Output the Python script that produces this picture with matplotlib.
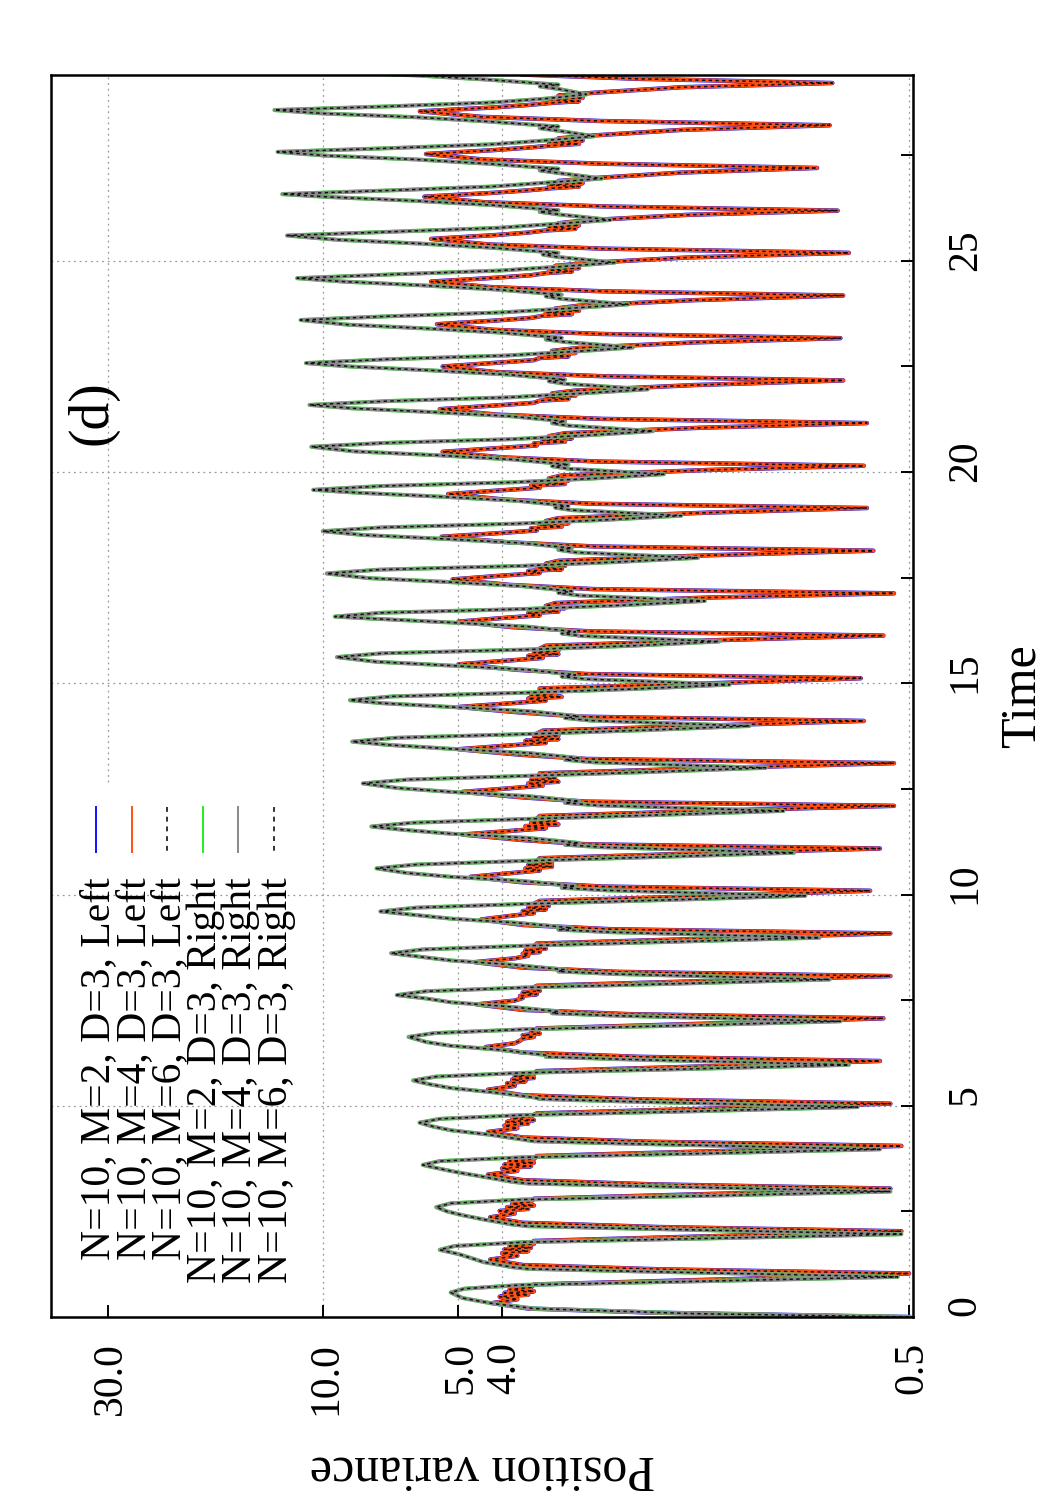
import matplotlib
matplotlib.use("Agg")
import matplotlib.pyplot as plt
from matplotlib.lines import Line2D
from matplotlib.ticker import NullLocator
from matplotlib.transforms import ScaledTranslation

plt.rcParams['font.family'] = ['Liberation Serif', 'DejaVu Serif']

# ---------------- data ----------------
# "Right" group (M=2,4,6 curves overlap): time and position variance
right_time = [
    0.00, 0.08, 0.20, 0.32, 0.45,
    0.58, 0.67, 0.76, 0.85, 0.95, 1.08, 1.14, 1.18, 1.30, 1.40, 1.49,
    1.59, 1.68, 1.77, 1.86, 1.96, 2.09, 2.15, 2.19, 2.31, 2.41, 2.50,
    2.60, 2.69, 2.78, 2.87, 2.97, 3.10, 3.16, 3.20, 3.32, 3.42, 3.51,
    3.60, 3.69, 3.78, 3.87, 3.97, 4.10, 4.16, 4.20, 4.32, 4.42, 4.51,
    4.60, 4.69, 4.78, 4.87, 4.97, 5.10, 5.16, 5.20, 5.32, 5.42, 5.51,
    5.60, 5.69, 5.78, 5.87, 5.97, 6.10, 6.16, 6.20, 6.32, 6.42, 6.51,
    6.63, 6.72, 6.81, 6.90, 7.00, 7.13, 7.19, 7.23, 7.35, 7.45, 7.54,
    7.62, 7.71, 7.80, 7.89, 7.99, 8.12, 8.18, 8.22, 8.34, 8.44, 8.53,
    8.61, 8.70, 8.79, 8.88, 8.98, 9.11, 9.17, 9.21, 9.33, 9.43, 9.52,
    9.60, 9.69, 9.78, 9.87, 9.97, 10.10, 10.16, 10.20, 10.32, 10.42, 10.51,
    10.62, 10.71, 10.80, 10.89, 10.99, 11.12, 11.18, 11.22, 11.34, 11.44, 11.53,
    11.61, 11.70, 11.79, 11.88, 11.98, 12.11, 12.17, 12.21, 12.33, 12.43, 12.52,
    12.63, 12.72, 12.81, 12.90, 13.00, 13.13, 13.19, 13.23, 13.35, 13.45, 13.54,
    13.62, 13.71, 13.80, 13.89, 13.99, 14.12, 14.18, 14.22, 14.34, 14.44, 14.53,
    14.60, 14.69, 14.78, 14.87, 14.97, 15.10, 15.16, 15.20, 15.32, 15.42, 15.51,
    15.62, 15.71, 15.80, 15.89, 15.99, 16.12, 16.18, 16.22, 16.34, 16.44, 16.53,
    16.58, 16.67, 16.76, 16.85, 16.95, 17.08, 17.14, 17.18, 17.30, 17.40, 17.49,
    17.60, 17.69, 17.78, 17.87, 17.97, 18.10, 18.16, 18.20, 18.32, 18.42, 18.51,
    18.60, 18.69, 18.78, 18.87, 18.97, 19.10, 19.16, 19.20, 19.32, 19.42, 19.51,
    19.58, 19.67, 19.76, 19.85, 19.95, 20.08, 20.14, 20.18, 20.30, 20.40, 20.49,
    20.60, 20.69, 20.78, 20.87, 20.97, 21.10, 21.16, 21.20, 21.32, 21.42, 21.51,
    21.59, 21.68, 21.77, 21.86, 21.96, 22.09, 22.15, 22.19, 22.31, 22.41, 22.50,
    22.58, 22.67, 22.76, 22.85, 22.95, 23.08, 23.14, 23.18, 23.30, 23.40, 23.49,
    23.60, 23.69, 23.78, 23.87, 23.97, 24.10, 24.16, 24.20, 24.32, 24.42, 24.51,
    24.59, 24.68, 24.77, 24.86, 24.96, 25.09, 25.15, 25.19, 25.31, 25.41, 25.50,
    25.60, 25.69, 25.78, 25.87, 25.97, 26.10, 26.16, 26.20, 26.32, 26.42, 26.51,
    26.58, 26.67, 26.76, 26.85, 26.95, 27.08, 27.14, 27.18, 27.30, 27.40, 27.49,
    27.58, 27.67, 27.76, 27.85, 27.95, 28.08, 28.14, 28.18, 28.30, 28.40, 28.49,
    28.57, 28.66, 28.75, 28.84, 28.94, 29.07, 29.13, 29.17, 29.29, 29.39, 29.48,
]
right_var = [
    0.50, 1.5, 3.4, 4.2, 4.9,
    5.2, 4.85, 3.6, 1.4, 0.53, 2.0, 3.5, 3.8, 4.4, 4.7, 5.0,
    5.5, 5.1, 3.6, 1.4, 0.52, 2.0, 3.5, 3.8, 4.4, 4.9, 5.3,
    5.6, 5.2, 3.6, 1.4, 0.55, 2.0, 3.5, 3.8, 4.4, 5.0, 5.5,
    6.0, 5.5, 3.6, 1.45, 0.58, 2.05, 3.4, 3.6, 4.3, 5.2, 5.7,
    6.1, 5.5, 3.6, 1.5, 0.65, 2.1, 3.3, 3.4, 4.2, 5.2, 5.8,
    6.3, 5.6, 3.6, 1.55, 0.68, 2.15, 3.2, 3.2, 4.0, 5.2, 5.9,
    6.45, 5.65, 3.55, 1.6, 0.71, 2.2, 3.1, 3.0, 3.9, 5.2, 5.9,
    6.85, 5.9, 3.55, 1.65, 0.75, 2.25, 3.0, 2.9, 3.8, 5.2, 6.1,
    7.05, 6.0, 3.5, 1.7, 0.79, 2.3, 3.0, 2.8, 3.7, 5.2, 6.3,
    7.45, 6.2, 3.5, 1.75, 0.85, 2.35, 2.95, 2.75, 3.6, 5.2, 6.5,
    7.6, 6.2, 3.5, 1.8, 0.9, 2.4, 2.9, 2.7, 3.5, 5.2, 6.6,
    7.8, 6.3, 3.5, 1.85, 0.95, 2.45, 2.9, 2.7, 3.5, 5.2, 6.8,
    8.15, 6.5, 3.5, 1.9, 1.04, 2.5, 2.9, 2.7, 3.5, 5.2, 7.1,
    8.6, 6.9, 3.5, 1.95, 1.13, 2.55, 2.9, 2.7, 3.5, 5.2, 7.4,
    8.7, 7.0, 3.5, 2.0, 1.25, 2.6, 2.95, 2.75, 3.5, 5.2, 7.6,
    9.3, 7.4, 3.5, 2.05, 1.32, 2.65, 2.95, 2.75, 3.5, 5.2, 7.7,
    9.4, 7.4, 3.55, 2.15, 1.42, 2.7, 3.0, 2.8, 3.6, 5.3, 7.9,
    9.8, 7.5, 3.6, 2.25, 1.47, 2.75, 3.0, 2.8, 3.6, 5.4, 8.1,
    10.0, 7.4, 3.7, 2.35, 1.6, 2.8, 3.05, 2.85, 3.7, 5.5, 8.3,
    10.5, 7.4, 3.75, 2.5, 1.75, 2.85, 3.1, 2.85, 3.8, 5.6, 8.5,
    10.6, 7.3, 3.8, 2.6, 1.85, 2.85, 3.1, 2.9, 3.8, 5.7, 8.6,
    10.7, 7.2, 3.85, 2.7, 1.9, 2.9, 3.15, 2.9, 3.9, 5.8, 8.7,
    10.9, 7.2, 3.9, 2.8, 2.05, 2.9, 3.2, 2.95, 4.0, 5.9, 8.8,
    11.2, 7.1, 4.0, 2.9, 2.1, 2.95, 3.2, 2.95, 4.1, 6.0, 9.0,
    11.4, 7.0, 4.05, 3.0, 2.25, 3.0, 3.25, 3.0, 4.2, 6.1, 9.3,
    12.0, 7.0, 4.1, 3.1, 2.3, 3.0, 3.3, 3.0, 4.2, 6.2, 9.6,
    12.3, 7.0, 4.2, 3.2, 2.4, 3.0, 3.3, 3.0, 4.3, 6.2, 9.8,
    12.6, 7.0, 4.2, 3.2, 2.5, 3.0, 3.3, 3.0, 4.3, 6.2, 10.0,
    12.8, 7.0, 4.2, 3.2, 2.6, 3.0, 3.3, 3.0, 4.3, 6.2, 10.0,
]

# "Left" group (M=2,4,6 curves overlap)
left_time = [
    0.00, 0.10, 0.20, 0.33, 0.42, 0.48, 0.53, 0.57, 0.61, 0.65, 0.70, 0.77, 0.90,
    1.03, 1.13, 1.23, 1.36, 1.45, 1.51, 1.56, 1.60, 1.64, 1.68, 1.73, 1.80, 1.93,
    2.03, 2.13, 2.23, 2.36, 2.45, 2.51, 2.56, 2.60, 2.64, 2.68, 2.73, 2.80, 2.93,
    3.04, 3.14, 3.24, 3.37, 3.46, 3.52, 3.57, 3.61, 3.65, 3.69, 3.74, 3.81, 3.94,
    4.05, 4.15, 4.25, 4.38, 4.47, 4.53, 4.58, 4.62, 4.66, 4.70, 4.75, 4.82, 4.95,
    5.05, 5.15, 5.25, 5.38, 5.47, 5.53, 5.58, 5.62, 5.66, 5.70, 5.75, 5.82, 5.95,
    6.06, 6.16, 6.26, 6.39, 6.48, 6.54, 6.59, 6.63, 6.67, 6.71, 6.76, 6.83, 6.96,
    7.07, 7.17, 7.27, 7.40, 7.49, 7.55, 7.60, 7.64, 7.68, 7.72, 7.77, 7.84, 7.97,
    8.07, 8.17, 8.27, 8.40, 8.49, 8.55, 8.60, 8.64, 8.68, 8.72, 8.77, 8.84, 8.97,
    9.08, 9.18, 9.28, 9.41, 9.50, 9.56, 9.61, 9.65, 9.69, 9.73, 9.78, 9.85, 9.98,
    10.09, 10.19, 10.29, 10.42, 10.51, 10.57, 10.62, 10.66, 10.70, 10.74, 10.79, 10.86, 10.99,
    11.09, 11.19, 11.29, 11.42, 11.51, 11.57, 11.62, 11.66, 11.70, 11.74, 11.79, 11.86, 11.99,
    12.10, 12.20, 12.30, 12.43, 12.52, 12.58, 12.63, 12.67, 12.71, 12.75, 12.80, 12.87, 13.00,
    13.11, 13.21, 13.31, 13.44, 13.53, 13.59, 13.64, 13.68, 13.72, 13.76, 13.81, 13.88, 14.01,
    14.11, 14.21, 14.31, 14.44, 14.53, 14.59, 14.64, 14.68, 14.72, 14.76, 14.81, 14.88, 15.01,
    15.12, 15.22, 15.32, 15.45, 15.54, 15.60, 15.65, 15.69, 15.73, 15.77, 15.82, 15.89, 16.02,
    16.13, 16.23, 16.33, 16.46, 16.55, 16.61, 16.66, 16.70, 16.74, 16.78, 16.83, 16.90, 17.03,
    17.13, 17.23, 17.33, 17.46, 17.55, 17.61, 17.66, 17.70, 17.74, 17.78, 17.83, 17.90, 18.03,
    18.14, 18.24, 18.34, 18.47, 18.56, 18.62, 18.67, 18.71, 18.75, 18.79, 18.84, 18.91, 19.04,
    19.15, 19.25, 19.35, 19.48, 19.57, 19.63, 19.68, 19.72, 19.76, 19.80, 19.85, 19.92, 20.05,
    20.15, 20.25, 20.35, 20.48, 20.57, 20.63, 20.68, 20.72, 20.76, 20.80, 20.85, 20.92, 21.05,
    21.16, 21.26, 21.36, 21.49, 21.58, 21.64, 21.69, 21.73, 21.77, 21.81, 21.86, 21.93, 22.06,
    22.17, 22.27, 22.37, 22.50, 22.59, 22.65, 22.70, 22.74, 22.78, 22.82, 22.87, 22.94, 23.07,
    23.17, 23.27, 23.37, 23.50, 23.59, 23.65, 23.70, 23.74, 23.78, 23.82, 23.87, 23.94, 24.07,
    24.18, 24.28, 24.38, 24.51, 24.60, 24.66, 24.71, 24.75, 24.79, 24.83, 24.88, 24.95, 25.08,
    25.19, 25.29, 25.39, 25.52, 25.61, 25.67, 25.72, 25.76, 25.80, 25.84, 25.89, 25.96, 26.09,
    26.19, 26.29, 26.39, 26.52, 26.61, 26.67, 26.72, 26.76, 26.80, 26.84, 26.89, 26.96, 27.09,
    27.20, 27.30, 27.40, 27.53, 27.62, 27.68, 27.73, 27.77, 27.81, 27.85, 27.90, 27.97, 28.10,
    28.21, 28.31, 28.41, 28.54, 28.63, 28.69, 28.74, 28.78, 28.82, 28.86, 28.91, 28.98, 29.11,
    29.21, 29.31, 29.41,
]
left_var = [
    0.50, 1.8, 3.5, 4.2, 3.7, 4.05, 3.5, 3.95, 3.4, 3.85, 3.45, 3.4, 1.2,
    0.50, 1.8, 3.6, 4.25, 3.7, 4.0, 3.5, 3.95, 3.45, 3.85, 3.4, 3.4, 1.2,
    0.52, 1.8, 3.6, 4.25, 3.75, 4.05, 3.5, 3.9, 3.4, 3.8, 3.45, 3.4, 1.2,
    0.55, 1.85, 3.6, 4.3, 3.7, 4.0, 3.45, 3.95, 3.4, 3.85, 3.4, 3.35, 1.2,
    0.52, 1.9, 3.6, 4.3, 3.7, 3.95, 3.5, 3.9, 3.4, 3.8, 3.45, 3.35, 1.2,
    0.55, 1.95, 3.6, 4.3, 3.75, 3.9, 3.55, 3.8, 3.4, 3.75, 3.4, 3.35, 1.25,
    0.58, 2.0, 3.6, 4.35, 3.75, 3.65, 3.6, 3.4, 3.6, 3.3, 3.45, 3.35, 1.25,
    0.57, 2.1, 3.6, 4.55, 3.75, 3.6, 3.65, 3.35, 3.6, 3.3, 3.45, 3.35, 1.25,
    0.55, 2.2, 3.6, 4.6, 3.75, 3.5, 3.6, 3.3, 3.55, 3.2, 3.4, 3.35, 1.25,
    0.55, 2.3, 3.6, 4.45, 3.8, 3.4, 3.6, 3.2, 3.5, 3.15, 3.4, 3.3, 1.25,
    0.61, 2.4, 3.6, 4.7, 3.8, 3.3, 3.55, 3.1, 3.5, 3.1, 3.35, 3.3, 1.3,
    0.58, 2.6, 3.6, 4.9, 3.8, 3.2, 3.55, 3.0, 3.45, 3.05, 3.35, 3.3, 1.3,
    0.54, 2.6, 3.6, 4.9, 3.8, 3.25, 3.5, 3.0, 3.45, 3.05, 3.3, 3.3, 1.3,
    0.54, 2.6, 3.65, 5.0, 3.85, 3.2, 3.55, 3.0, 3.4, 3.0, 3.35, 3.25, 1.3,
    0.63, 2.65, 3.65, 5.0, 3.8, 3.2, 3.5, 2.95, 3.45, 3.05, 3.3, 3.3, 1.3,
    0.64, 2.6, 3.7, 5.0, 3.85, 3.25, 3.5, 3.0, 3.4, 3.0, 3.3, 3.2, 1.35,
    0.57, 2.55, 3.8, 5.0, 3.95, 3.3, 3.5, 3.0, 3.35, 2.9, 3.2, 3.05, 1.4,
    0.54, 2.5, 3.85, 5.15, 4.0, 3.3, 3.5, 2.95, 3.35, 2.9, 3.2, 3.0, 1.4,
    0.60, 2.5, 3.9, 5.45, 4.0, 3.35, 3.45, 2.95, 3.3, 2.85, 3.2, 3.0, 1.4,
    0.62, 2.5, 3.95, 5.27, 4.0, 3.3, 3.45, 2.9, 3.3, 2.85, 3.15, 2.95, 1.4,
    0.63, 2.45, 4.0, 5.42, 4.05, 3.35, 3.4, 2.9, 3.25, 2.8, 3.15, 2.9, 1.45,
    0.62, 2.4, 4.1, 5.5, 4.1, 3.4, 3.3, 2.85, 3.2, 2.75, 3.1, 2.75, 1.5,
    0.70, 2.4, 4.15, 5.42, 4.1, 3.4, 3.3, 2.85, 3.2, 2.75, 3.1, 2.7, 1.5,
    0.71, 2.4, 4.2, 5.58, 4.1, 3.45, 3.25, 2.8, 3.2, 2.7, 3.05, 2.7, 1.5,
    0.70, 2.4, 4.25, 5.75, 4.15, 3.45, 3.2, 2.8, 3.15, 2.7, 3.05, 2.6, 1.55,
    0.68, 2.4, 4.3, 5.75, 4.15, 3.5, 3.2, 2.75, 3.15, 2.7, 3.0, 2.6, 1.55,
    0.72, 2.4, 4.4, 5.95, 4.2, 3.5, 3.1, 2.7, 3.15, 2.65, 3.0, 2.5, 1.6,
    0.80, 2.4, 4.4, 5.9, 4.2, 3.5, 3.1, 2.7, 3.15, 2.65, 3.0, 2.5, 1.6,
    0.75, 2.4, 4.45, 6.09, 4.2, 3.5, 3.1, 2.7, 3.15, 2.65, 3.0, 2.5, 1.6,
    0.74, 2.0, 3.6,
]

series_labels = [
    "N=10, M=2, D=3, Left",
    "N=10, M=4, D=3, Left",
    "N=10, M=6, D=3, Left",
    "N=10, M=2, D=3, Right",
    "N=10, M=4, D=3, Right",
    "N=10, M=6, D=3, Right",
]
var_ticks = [30, 10, 5, 4, 0.5]
var_tick_labels = ["30.0", "10.0", "5.0", "4.0", "0.5"]
time_ticks = [0, 5, 10, 15, 20, 25]
time_minor_ticks = [2.5, 7.5, 12.5, 17.5, 22.5, 27.5]
time_tick_labels = ["0", "5", "10", "15", "20", "25"]

# ---------------- figure ----------------
W, H = 1050, 1500
fig = plt.figure(figsize=(W / 100, H / 100), dpi=100)
fig.patch.set_facecolor("white")
L, R, T, B = 51, 913, 75, 1317
ax = fig.add_axes([L / W, 1 - B / H, (R - L) / W, (B - T) / H])

ax.set_xscale("log")
ax.set_xlim(40.1, 0.49)
ax.set_ylim(0, 29.4)

# grid (dotted)
gstyle = dict(color="#9a9a9a", lw=0.9, ls=(0, (1.5, 3.0)), zorder=0.5)
legend_top_frac = (B - 782) / (B - T)
for v in var_ticks:
    if v == 30:
        ax.axvline(v, ymin=legend_top_frac, ymax=1, **gstyle)
    else:
        ax.axvline(v, **gstyle)
for t in time_ticks[1:]:
    ax.axhline(t, **gstyle)

# curves
styles = [
    (left_time, left_var, dict(color="#1010ff", lw=3.2, solid_joinstyle="round")),
    (left_time, left_var, dict(color="#ff4f12", lw=2.7, solid_joinstyle="round")),
    (left_time, left_var, dict(color="#111111", lw=1.1, ls=(0, (2.2, 2.2)))),
    (right_time, right_var, dict(color="#44e044", lw=3.0, solid_joinstyle="round")),
    (right_time, right_var, dict(color="#8a8a8a", lw=2.6, solid_joinstyle="round")),
    (right_time, right_var, dict(color="#111111", lw=1.1, ls=(0, (2.2, 2.2)))),
]
for i, (tt, vv, st) in enumerate(styles):
    ax.plot(vv, tt, zorder=2 + i * 0.1, **st)

# axes ticks
ax.set_xticks(var_ticks)
ax.set_xticklabels(var_tick_labels)
ax.xaxis.set_minor_locator(NullLocator())
ax.tick_params(axis="x", which="both", direction="in", length=8.5, width=1.4,
               top=False, bottom=True, pad=18, labelsize=30, labelrotation=90)
xshift = ScaledTranslation(3 / 100, 0, fig.dpi_scale_trans)
for lab in ax.get_xticklabels():
    lab.set_transform(lab.get_transform() + xshift)

ax.yaxis.tick_right()
ax.set_yticks(time_ticks)
ax.set_yticklabels(time_tick_labels)
ax.set_yticks(time_minor_ticks, minor=True)
ax.tick_params(axis="y", which="both", direction="in", length=8.5, width=1.4,
               left=False, right=True, labelleft=False, labelright=True,
               pad=24, labelsize=30, labelrotation=90)
yshift = ScaledTranslation(0, 11 / 100, fig.dpi_scale_trans)
for lab in ax.get_yticklabels():
    lab.set_verticalalignment("center")
    lab.set_transform(lab.get_transform() + yshift)

for sp in ax.spines.values():
    sp.set_linewidth(1.8)
    sp.set_zorder(5)

# axis labels
ax.set_xlabel("Position variance", fontsize=36, rotation=180)
ax.xaxis.label.set_verticalalignment("center")
ax.xaxis.label.set_horizontalalignment("center")
ax.xaxis.set_label_coords(0.5, -(1468 - B) / (B - T))

ax.yaxis.set_label_position("right")
ax.set_ylabel("Time", fontsize=36, rotation=90)
ax.yaxis.label.set_verticalalignment("center")
ax.yaxis.label.set_horizontalalignment("center")
ax.yaxis.set_label_coords((1022 - L) / (R - L), 0.5)

# panel tag
fig.text(92 / W, 1 - 413 / H, "(d)", rotation=90, ha="center", va="center",
         fontsize=40)

# legend (rotated, drawn by hand to match the rotated page)
leg_colors = ["#1010ff", "#ff4f12", "#333333", "#22ee22", "#888888", "#333333"]
leg_ls = ["-", "-", (0, (2.5, 2.5)), "-", "-", (0, (2.5, 2.5))]
for i, lab in enumerate(series_labels):
    lx = 96 + 35.5 * i
    fig.add_artist(Line2D([lx / W, lx / W], [1 - 807 / H, 1 - 852 / H],
                          transform=fig.transFigure, color=leg_colors[i],
                          lw=1.4, ls=leg_ls[i]))
    fig.text((lx + 13.5) / W, 1 - 877 / H, lab, rotation=90,
             rotation_mode="anchor", ha="right", va="baseline", fontsize=30)

fig.savefig("out.png", dpi=100, facecolor="white")
